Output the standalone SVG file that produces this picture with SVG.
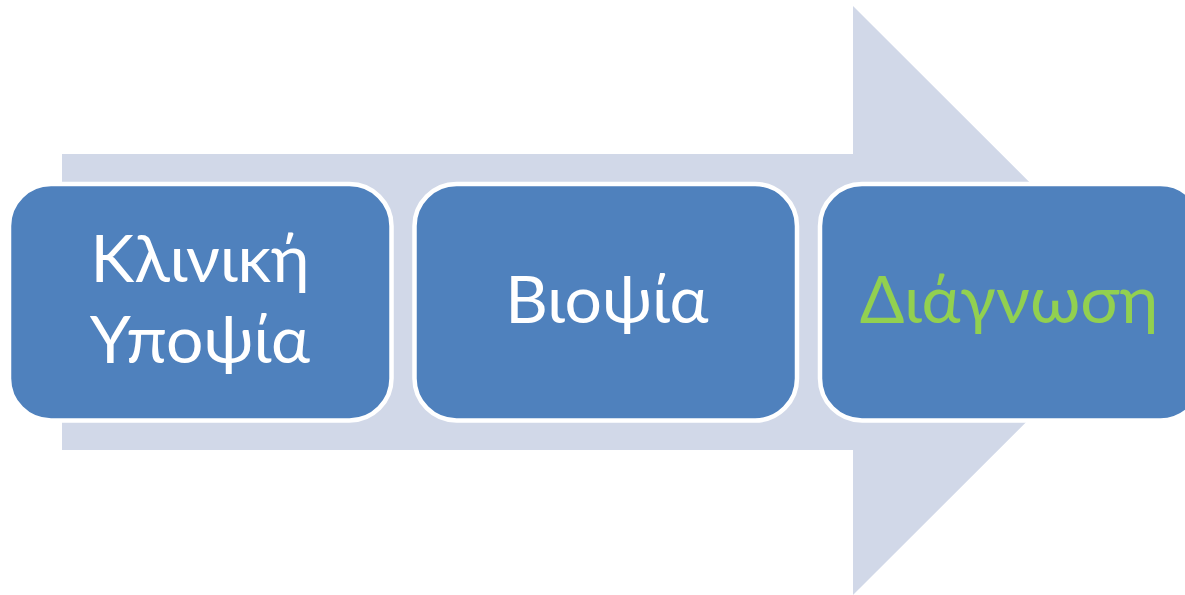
<svg xmlns="http://www.w3.org/2000/svg" width="1185" height="595" viewBox="0 0 1185 595">
<style>
.box{fill:#4F81BD;stroke:#FFFFFF;stroke-width:4.5}
.t{font-family:Lato,"Open Sans","Liberation Sans",sans-serif;font-size:66px;text-anchor:middle;fill:#FFFFFF}
.g{fill:#92D050}
</style>
<rect width="1185" height="595" fill="#FFFFFF"/>
<g id="arrow">
<polygon points="62,154 853,154 853,6 1148,300.5 853,595 853,450 62,450" fill="#D1D8E8"/>
</g>
<g id="connectors"></g>
<g id="node1">
<rect class="box" x="9" y="184" width="382.5" height="236.5" rx="42"/>
<text class="t" x="200" y="282">Κλινική</text>
<text class="t" x="200" y="363">Υποψία</text>
</g>
<g id="node2">
<rect class="box" x="414.5" y="184" width="382.5" height="236.5" rx="42"/>
<text class="t" x="607" y="323">Βιοψία</text>
</g>
<g id="node3">
<rect class="box" x="820" y="184" width="382.5" height="236.5" rx="42"/>
<text class="t g" x="1009" y="323">Διάγνωση</text>
</g>
</svg>
